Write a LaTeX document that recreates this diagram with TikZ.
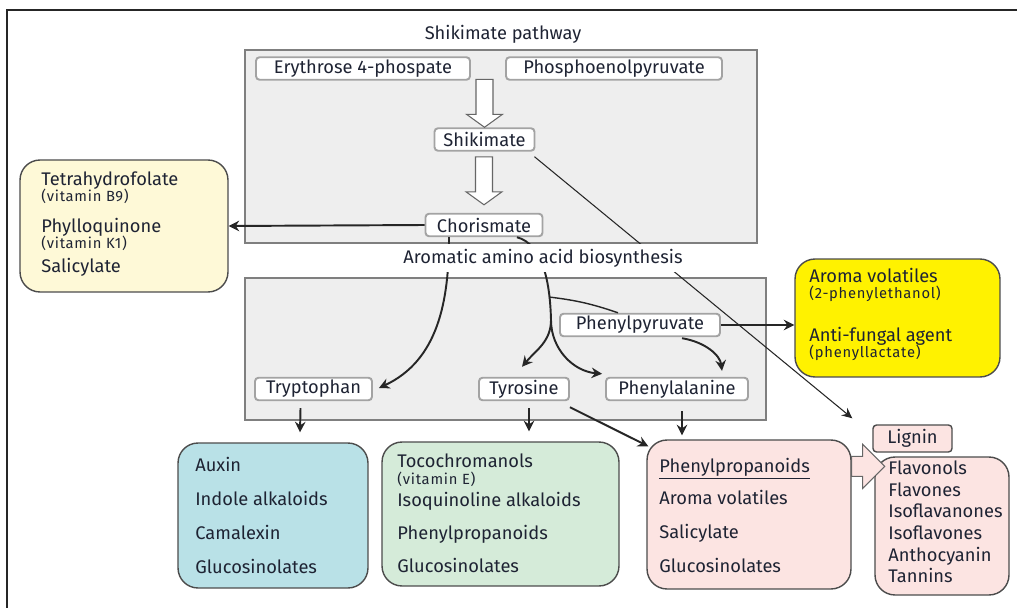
\documentclass[tikz,border=0pt]{standalone}
\usepackage{fontspec}
\setmainfont{Fira Sans}
\newfontfamily\notefont[LetterSpace=5]{Fira Sans}
\usetikzlibrary{arrows.meta,calc}

\definecolor{ink}{HTML}{1E2333}
\definecolor{regionfill}{HTML}{EEEEEE}
\definecolor{regionline}{HTML}{7F7F7F}
\definecolor{boxline}{HTML}{A3A3A3}
\definecolor{paleyellow}{HTML}{FEF9D7}
\definecolor{brightyellow}{HTML}{FFF200}
\definecolor{paleblue}{HTML}{B9E1E7}
\definecolor{palegreen}{HTML}{D5EBD9}
\definecolor{palepink}{HTML}{FCE4E2}

\newcommand{\mainsize}{\fontsize{10.4}{12}\selectfont}
\newcommand{\notesize}{\notefont\fontsize{8.4}{10}\selectfont}

\tikzset{
  compound/.style={draw=boxline, line width=1.1pt, fill=white, rounded corners=2pt,
    inner sep=0pt, minimum height=0.45cm, text=ink, font=\mainsize},
  product/.style={draw=black!70, line width=0.8pt, rounded corners=0.4cm, inner sep=0pt},
  region/.style={draw=regionline, line width=1.6pt, fill=regionfill},
  entry/.style={anchor=base west, inner sep=0pt, text=ink, font=\mainsize},
  note/.style={anchor=base west, inner sep=0pt, text=ink, font=\notesize},
  arr/.style={-{Stealth[length=6pt,width=6pt,inset=2pt]}, line width=1.1pt, black!85},
  thinarr/.style={-{Stealth[length=6pt,width=5.5pt,inset=2pt]}, line width=0.6pt, black!85},
  hollow/.style={draw=black!60, line width=0.6pt, fill=white},
}

\begin{document}
\begin{tikzpicture}[x=0.02cm,y=-0.02cm]
\useasboundingbox (0,0) rectangle (1017,608);
% outer frame
\draw[line width=1.4pt, black!85] (1017,10) -- (7,10) -- (7,608);
\node[font=\mainsize, text=ink] (title) at (503,34) {Shikimate pathway};

% grey regions
\draw[region] (245,50) rectangle (757,243);
\draw[region] (245,278) rectangle (766,420);

% compounds
\node[compound, minimum width=4.28cm] (ery) at (363,68.5) {Erythrose 4-phospate};
\node[compound, minimum width=4.32cm] (pep) at (614,68.5) {Phosphoenolpyruvate};
\node[compound, minimum width=2.0cm] (shik) at (484.5,139.5) {Shikimate};
\node[compound, minimum width=2.34cm] (chor) at (484,225) {Chorismate};
\node[compound, minimum width=2.34cm] (tryp) at (313.5,389) {Tryptophan};
\node[compound, minimum width=1.8cm] (tyr) at (524,389) {Tyrosine};
\node[compound, minimum width=2.84cm] (phe) at (677,389) {Phenylalanine};
\node[compound, minimum width=3.2cm] (pyr) at (640,325) {Phenylpyruvate};

% product boxes
\node[product, fill=paleyellow, minimum width=4.16cm, minimum height=2.64cm] (vit) at (124,226) {};
\node[entry] at (41,185) {Tetrahydrofolate};
\node[note] at (41,201) {(vitamin B9)};
\node[entry] at (41,232) {Phylloquinone};
\node[note] at (41,248) {(vitamin K1)};
\node[entry] at (41,272) {Salicylate};

\node[product, fill=brightyellow, minimum width=4.1cm, minimum height=2.36cm] (aroma) at (897.5,318) {};
\node[entry] at (809,282) {Aroma volatiles};
\node[note] at (809,298) {(2-phenylethanol)};
\node[entry] at (809,341) {Anti-fungal agent};
\node[note] at (809,357) {(phenyllactate)};

\node[product, fill=paleblue, minimum width=3.8cm, minimum height=2.9cm] (trpbox) at (273,515.5) {};
\node[entry] at (195,471) {Auxin};
\node[entry] at (195,505) {Indole alkaloids};
\node[entry] at (195,539) {Camalexin};
\node[entry] at (195,573) {Glucosinolates};

\node[product, fill=palegreen, minimum width=4.74cm, minimum height=2.88cm] (tyrbox) at (500.5,514) {};
\node[entry] at (397,467) {Tocochromanols};
\node[note] at (397,484) {(vitamin E)};
\node[entry] at (397,506) {Isoquinoline alkaloids};
\node[entry] at (397,539) {Phenylpropanoids};
\node[entry] at (397,572) {Glucosinolates};

\node[product, fill=palepink, minimum width=4.08cm, minimum height=2.98cm] (phebox) at (749,514.5) {};
\node[entry] at (659,472) {\underline{Phenylpropanoids}};
\node[entry] at (659,504) {Aroma volatiles};
\node[entry] at (659,538) {Salicylate};
\node[entry] at (659,572) {Glucosinolates};

\node[compound, draw=black!70, line width=0.8pt, fill=palepink, minimum width=1.58cm, minimum height=0.54cm] (lignin) at (912.5,438.5) {Lignin};

\node[product, fill=palepink, minimum width=2.68cm, minimum height=2.76cm] (flav) at (942,526) {};
\node[entry] at (888,474) {Flavonols};
\node[entry] at (888,496) {Flavones};
\node[entry] at (888,517) {Isoflavanones};
\node[entry] at (888,539) {Isoflavones};
\node[entry] at (888,561) {Anthocyanin};
\node[entry] at (888,582) {Tannins};

% hollow arrows
\draw[hollow] (shik.north) -- ++(-18,-13) -- ++(9.5,0) -- ++(0,-35) -- ++(17,0)
  -- ++(0,35) -- ++(9.5,0) -- cycle;
\draw[hollow] ($(chor.north)+(0,-8)$) -- ++(-18,-13) -- ++(9.5,0) -- ++(0,-35) -- ++(17,0)
  -- ++(0,35) -- ++(9.5,0) -- cycle;
\coordinate (fa) at ($(phebox.north east)+(0,27)$);
\draw[hollow, fill=palepink] (fa) ++(0,-10) -- ++(11,0) -- ++(0,-12) -- ++(22,22)
  -- ++(-22,22) -- ++(0,-12) -- ++(-11,0) -- cycle;

% connectors
\draw[arr] (chor.west) -- (vit.east);
\draw[thinarr] ($(shik.south east)+(-1,5)$) -- ($(lignin.north west)+(-20,-6)$);
\draw[arr] ($(chor.south)+(-35,0)$) to[out=-90,in=25] ($(tryp.east)+(6,-1)$);
\coordinate (fork) at (551,320);
\coordinate (tap) at (549,297);
\draw[line width=1.1pt, black!85] ($(chor.south)+(33,0)$) .. controls (542,244) and (550,280) .. (fork);
\draw[arr] (fork) to[out=-90,in=50] ($(tyr.north)+(-2,-10)$);
\draw[arr] (fork) to[out=-90,in=175] ($(phe.north west)+(-3,-3)$);
\draw[line width=0.8pt, black!85] (tap) to[bend left=6] ($(pyr.north)+(-22,0)$);
\draw[arr] ($(pyr.south)+(42,1)$) .. controls (705,342) and (720,355) .. ($(phe.north)+(45,-6)$);
\draw[arr] (pyr.east) -- (pyr.east -| aroma.west);
\draw[arr] ($(tryp.south)+(-13,7)$) -- ($(trpbox.north)+(27,-10)$);
\draw[arr] ($(tyr.south)+(5,7)$) -- ($(tyrbox.north)+(28.5,-10)$);
\draw[arr] ($(phe.south)+(5,10)$) -- ($(phebox.north)+(-67,-4)$);
\draw[arr] ($(tyr.south east)+(0,6)$) -- ($(phebox.north west)+(2,7)$);

% label over the lines
\node[fill=white, inner sep=3pt, font=\mainsize, text=ink] (aaa) at (543,258) {Aromatic amino acid biosynthesis};
\end{tikzpicture}
\end{document}
